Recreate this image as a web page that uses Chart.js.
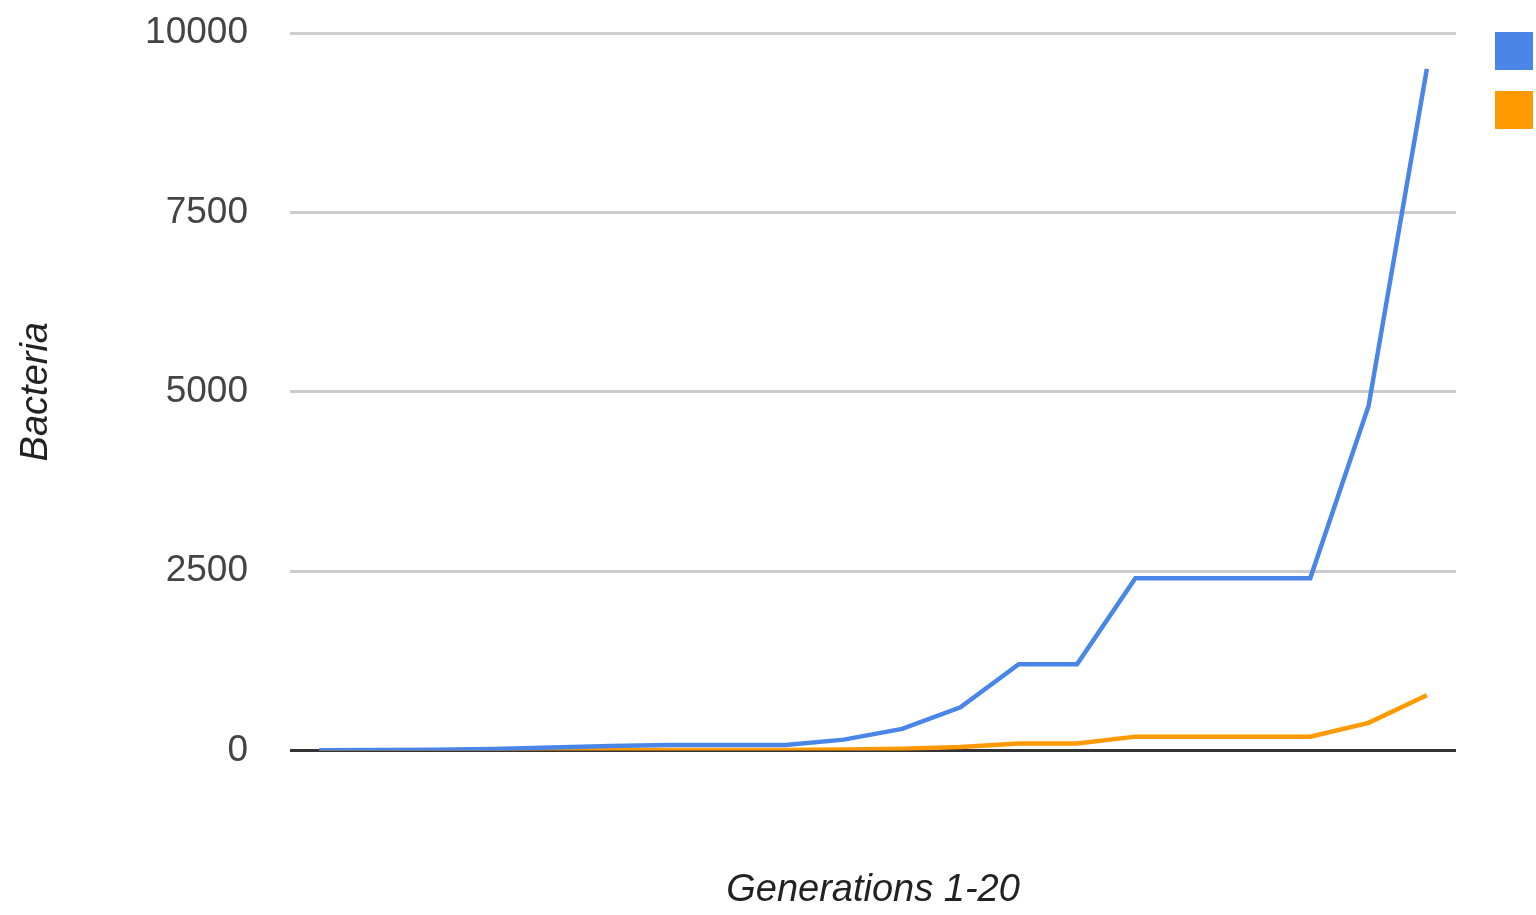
<!DOCTYPE html>
<html>
<head>
<meta charset="utf-8">
<title>Bacteria per generation</title>
<script src="https://cdn.jsdelivr.net/npm/chart.js@4.4.0/dist/chart.umd.min.js"></script>
<style>
  html, body { margin: 0; padding: 0; background: #fff; overflow: hidden; }
  #wrap { position: relative; width: 1594px; height: 915px; }
</style>
</head>
<body>
<div id="wrap"><canvas id="bacteriaChart"></canvas></div>
<script>
const generations = ["1", "2", "3", "4", "5", "6", "7", "8", "9", "10",
                     "11", "12", "13", "14", "15", "16", "17", "18", "19", "20"];
const seriesNames = ["Bacteria A", "Bacteria B"];
const bacteriaA = [2, 5, 10, 20, 40, 60, 75, 75, 75, 150, 300, 600, 1200, 1200, 2400, 2400, 2400, 2400, 4800, 9500];
const bacteriaB = [0, 0, 1, 2, 3, 5, 6, 6, 6, 12, 24, 48, 96, 96, 192, 192, 192, 192, 384, 768];
const yTicks = [0, 2500, 5000, 7500, 10000];

const blue = "#4a86e8";
const orange = "#ff9900";
const fontFamily = "'Liberation Sans', Arial, sans-serif";

new Chart(document.getElementById("bacteriaChart"), {
  type: "line",
  data: {
    labels: generations,
    datasets: [
      {
        label: seriesNames[0],
        data: bacteriaA,
        borderColor: blue,
        backgroundColor: blue,
        borderWidth: 4.5,
        pointRadius: 0,
        tension: 0
      },
      {
        label: seriesNames[1],
        data: bacteriaB,
        borderColor: orange,
        backgroundColor: orange,
        borderWidth: 4.5,
        pointRadius: 0,
        tension: 0
      }
    ]
  },
  options: {
    responsive: true,
    maintainAspectRatio: false,
    animation: false,
    layout: { padding: { top: 11, left: 0, right: 0, bottom: 0 } },
    plugins: {
      tooltip: { enabled: false },
      legend: {
        position: "right",
        align: "start",
        maxWidth: 120,
        labels: {
          boxWidth: 38,
          boxHeight: 38,
          padding: 21,
          color: "#222",
          font: { family: fontFamily, size: 30 },
          // plain filled squares, no outline
          generateLabels: chart =>
            Chart.defaults.plugins.legend.labels.generateLabels(chart).map(l => ({ ...l, lineWidth: 0 }))
        }
      }
    },
    scales: {
      x: {
        offset: true,
        grid: { display: false, drawTicks: false },
        border: { display: false },
        ticks: { display: false },
        title: {
          display: true,
          text: "Generations 1-20",
          color: "#222",
          font: { family: fontFamily, size: 38, style: "italic" },
          padding: { top: 117, bottom: 2 }
        }
      },
      y: {
        min: 0,
        max: 10000,
        afterBuildTicks: scale => { scale.ticks = yTicks.map(v => ({ value: v })); },
        afterFit: scale => {
          scale.width = 290;
          // room above the plot so the 10000 line sits at y=33
          scale.paddingTop = 33;
          scale.paddingBottom = 0;
        },
        grid: {
          drawTicks: false,
          lineWidth: 3,
          color: ctx => (ctx.tick && ctx.tick.value === 0 ? "#333" : "#cccccc")
        },
        border: { display: false },
        ticks: {
          padding: 42,
          color: "#444",
          font: { family: fontFamily, size: 37 },
          callback: v => String(v)
        },
        title: {
          display: true,
          text: "Bacteria",
          color: "#222",
          font: { family: fontFamily, size: 38, style: "italic" },
          padding: { top: 14, bottom: 0 }
        }
      },
      y2: {
        position: "right",
        afterFit: scale => { scale.width = 18; },
        grid: { display: false, drawTicks: false },
        border: { display: false },
        ticks: { display: false }
      }
    }
  }
});
</script>
</body>
</html>
